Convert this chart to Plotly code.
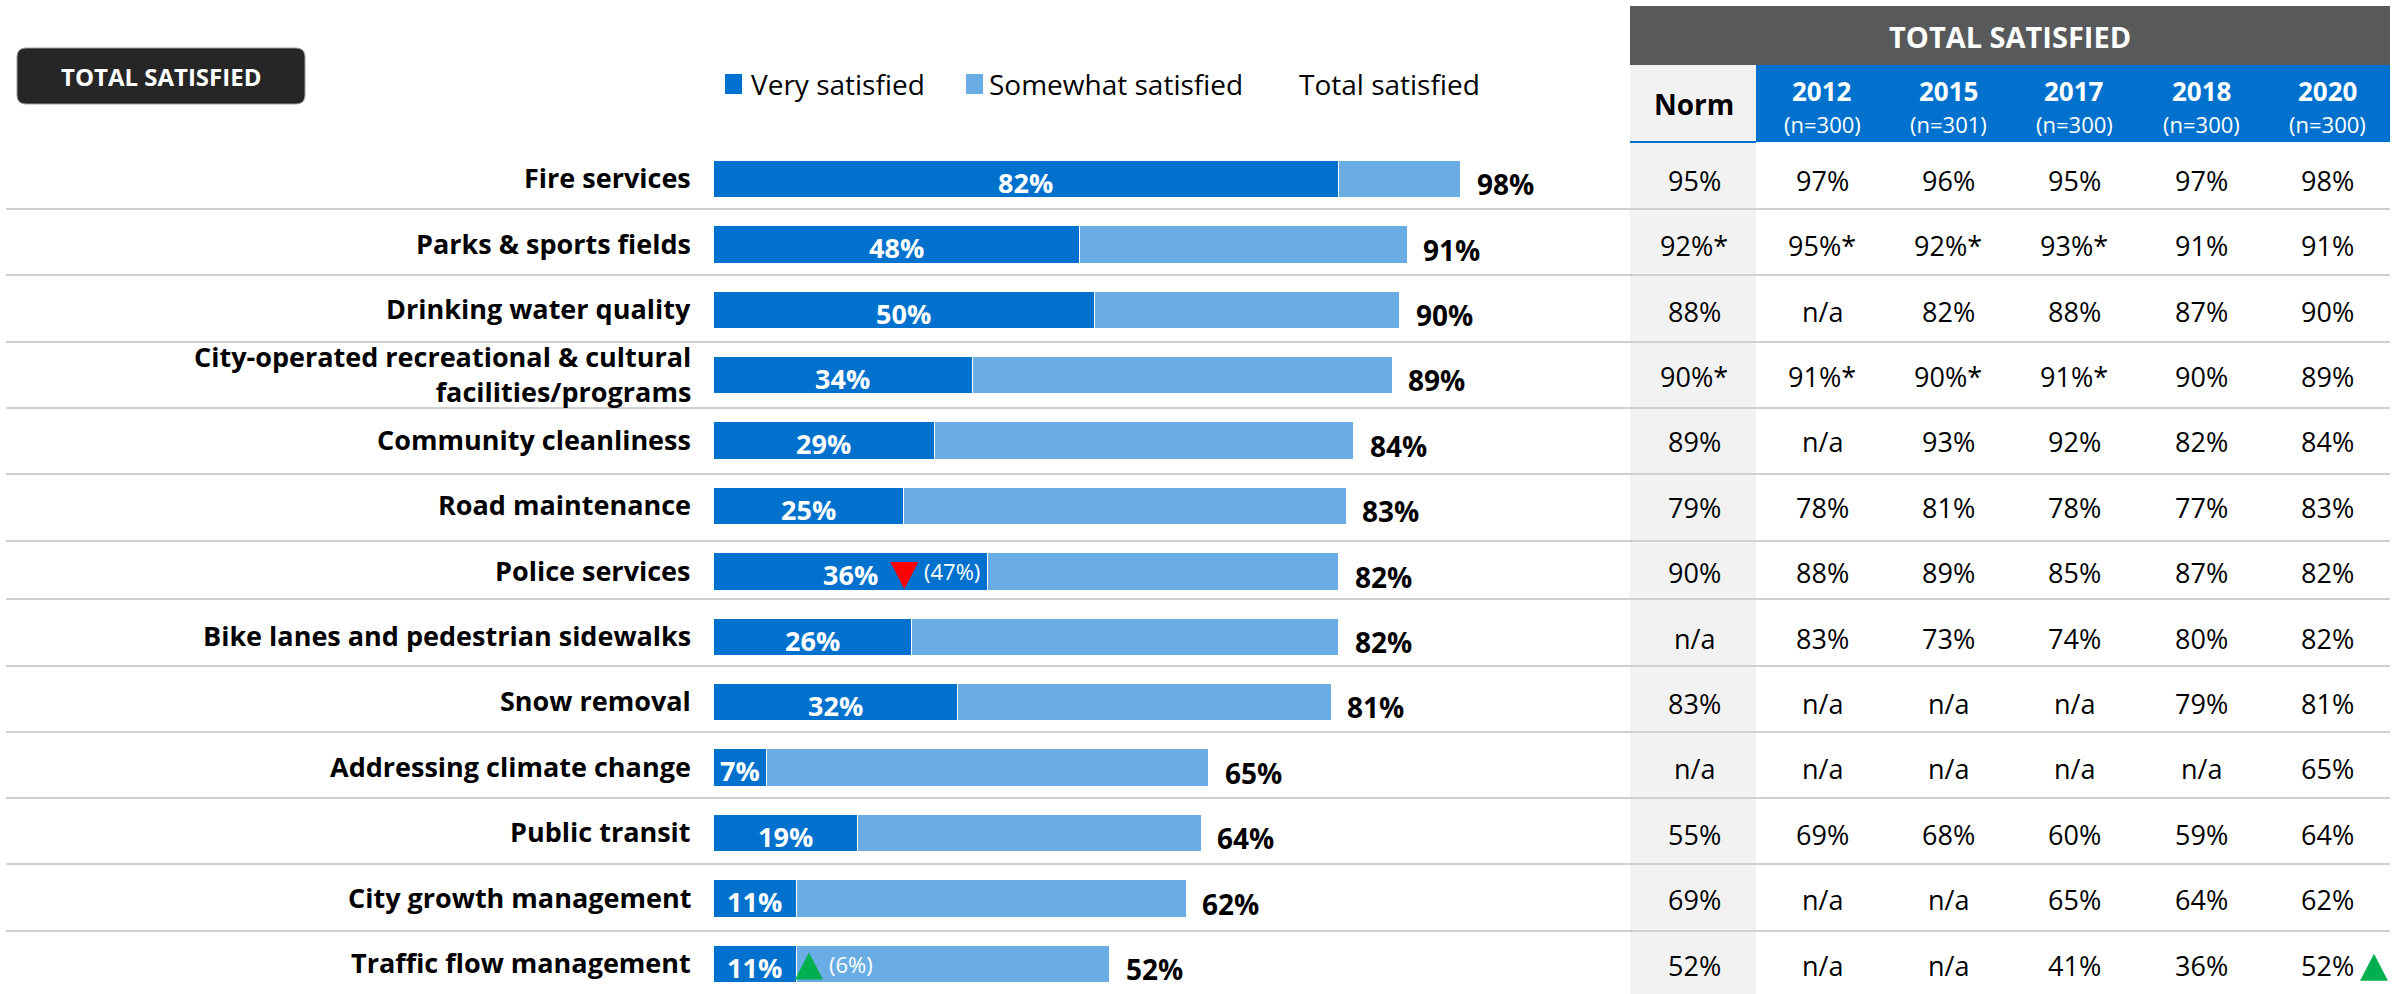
import plotly.graph_objects as go

# ---------------- data ----------------
categories = [
    "Fire services",
    "Parks & sports fields",
    "Drinking water quality",
    "City-operated recreational & cultural<br>facilities/programs",
    "Community cleanliness",
    "Road maintenance",
    "Police services",
    "Bike lanes and pedestrian sidewalks",
    "Snow removal",
    "Addressing climate change",
    "Public transit",
    "City growth management",
    "Traffic flow management",
]
very_satisfied = [82, 48, 50, 34, 29, 25, 36, 26, 32, 7, 19, 11, 11]
total_satisfied = [98, 91, 90, 89, 84, 83, 82, 82, 81, 65, 64, 62, 52]
# previous-year very satisfied values shown with a significance arrow
prev_very = {6: ("(47%)", "down"), 12: ("(6%)", "up")}

table_columns = ["Norm", "2012", "2015", "2017", "2018", "2020"]
table_n = ["", "(n=300)", "(n=301)", "(n=300)", "(n=300)", "(n=300)"]
norm_vals = ["95%", "92%*", "88%", "90%*", "89%", "79%", "90%", "n/a", "83%", "n/a", "55%", "69%", "52%"]
y2012_vals = ["97%", "95%*", "n/a", "91%*", "n/a", "78%", "88%", "83%", "n/a", "n/a", "69%", "n/a", "n/a"]
y2015_vals = ["96%", "92%*", "82%", "90%*", "93%", "81%", "89%", "73%", "n/a", "n/a", "68%", "n/a", "n/a"]
y2017_vals = ["95%", "93%*", "88%", "91%*", "92%", "78%", "85%", "74%", "n/a", "n/a", "60%", "65%", "41%"]
y2018_vals = ["97%", "91%", "87%", "90%", "82%", "77%", "87%", "80%", "79%", "n/a", "59%", "64%", "36%"]
y2020_vals = ["98%", "91%", "90%", "89%", "84%", "83%", "82%", "82%", "81%", "65%", "64%", "62%", "52%"]
table_vals = [norm_vals, y2012_vals, y2015_vals, y2017_vals, y2018_vals, y2020_vals]
table_arrow_rows = {12: "up"}  # arrow next to 2020 value

# ---------------- styling ----------------
W, H = 2402, 994
FONT = "Open Sans, Noto Sans, sans-serif"
DARK_BLUE = "#0072CE"
LIGHT_BLUE = "#6AADE4"
HEADER_GRAY = "#58595B"
BADGE = "#262626"
NORM_BG = "#F2F2F2"
SEP = "#D0D0D0"
RED = "#FF0000"
GREEN = "#00B050"

BAR_X0, BAR_X100 = 713, 1476          # pixel position of 0% and 100%
ROW0_Y, ROW_PITCH = 179, 65.4          # pixel centre of first row, row pitch
PX_PER_PCT = (BAR_X100 - BAR_X0) / 100.0
col_x = [1694, 1822, 1948, 2074, 2201, 2327]
sep_y = [209, 275, 342, 408, 474, 541, 599, 666, 732, 798, 864, 931]

TRI_DOWN = "M -14 12 L 14 12 L 0 -15 Z"
TRI_UP = "M -14 -13 L 14 -13 L 0 14 Z"


def px(x):
    return x / W


def py(y):
    return 1 - y / H


n = len(categories)
rows = list(range(n))
somewhat = [t - v for t, v in zip(total_satisfied, very_satisfied)]

fig = go.Figure()
fig.add_trace(go.Bar(
    y=rows, x=very_satisfied, orientation="h", marker_color=DARK_BLUE,
    marker_line=dict(color="white", width=1), width=0.57, name="Very satisfied",
    hoverinfo="skip"))
fig.add_trace(go.Bar(
    y=rows, x=somewhat, orientation="h", marker_color=LIGHT_BLUE,
    marker_line=dict(color="white", width=1), width=0.57, name="Somewhat satisfied",
    hoverinfo="skip"))

shapes = []
annotations = []

# table background pieces
shapes.append(dict(type="rect", xref="paper", yref="paper", x0=px(1630), x1=px(2390),
                   y0=py(65), y1=py(6), fillcolor=HEADER_GRAY, line_width=0, layer="below"))
shapes.append(dict(type="rect", xref="paper", yref="paper", x0=px(1756), x1=px(2390),
                   y0=py(142), y1=py(65), fillcolor=DARK_BLUE, line_width=0, layer="below"))
shapes.append(dict(type="rect", xref="paper", yref="paper", x0=px(1630), x1=px(1756),
                   y0=0, y1=py(65), fillcolor=NORM_BG, line_width=0, layer="below"))
shapes.append(dict(type="line", xref="paper", yref="paper", x0=px(1630), x1=px(1756),
                   y0=py(142), y1=py(142), line=dict(color=DARK_BLUE, width=2)))

# row separators
for s in sep_y:
    shapes.append(dict(type="line", xref="paper", yref="paper", x0=px(6), x1=px(2390),
                       y0=py(s), y1=py(s), line=dict(color=SEP, width=2), layer="below"))


# badge with rounded corners
def rounded_rect(x0, y0, x1, y1, r):
    pts = [
        f"M {px(x0 + r)} {py(y0)}",
        f"L {px(x1 - r)} {py(y0)}",
        f"Q {px(x1)} {py(y0)} {px(x1)} {py(y0 + r)}",
        f"L {px(x1)} {py(y1 - r)}",
        f"Q {px(x1)} {py(y1)} {px(x1 - r)} {py(y1)}",
        f"L {px(x0 + r)} {py(y1)}",
        f"Q {px(x0)} {py(y1)} {px(x0)} {py(y1 - r)}",
        f"L {px(x0)} {py(y0 + r)}",
        f"Q {px(x0)} {py(y0)} {px(x0 + r)} {py(y0)}",
        "Z",
    ]
    return " ".join(pts)


shapes.append(dict(type="path", xref="paper", yref="paper", path=rounded_rect(17, 48, 305, 104, 9),
                   fillcolor=BADGE, line=dict(color="#9a9a9a", width=1)))
annotations.append(dict(xref="paper", yref="paper", x=px(161), y=py(76), text="<b>TOTAL SATISFIED</b>",
                        showarrow=False, font=dict(family=FONT, size=24, color="white"),
                        xanchor="center", yanchor="middle"))

# legend (custom)
leg_y = 84
shapes.append(dict(type="rect", xref="paper", yref="paper", x0=px(725), x1=px(742),
                   y0=py(leg_y + 10), y1=py(leg_y - 10), fillcolor=DARK_BLUE, line_width=0))
annotations.append(dict(xref="paper", yref="paper", x=px(749), y=py(leg_y), text="Very satisfied",
                        showarrow=False, xanchor="left", yanchor="middle",
                        font=dict(family=FONT, size=28, color="black")))
shapes.append(dict(type="rect", xref="paper", yref="paper", x0=px(966), x1=px(983),
                   y0=py(leg_y + 10), y1=py(leg_y - 10), fillcolor=LIGHT_BLUE, line_width=0))
annotations.append(dict(xref="paper", yref="paper", x=px(987), y=py(leg_y), text="Somewhat satisfied",
                        showarrow=False, xanchor="left", yanchor="middle",
                        font=dict(family=FONT, size=28, color="black")))
annotations.append(dict(xref="paper", yref="paper", x=px(1297), y=py(leg_y), text="Total satisfied",
                        showarrow=False, xanchor="left", yanchor="middle",
                        font=dict(family=FONT, size=28, color="black")))

# category labels, bar labels
tri_off = 54 / PX_PER_PCT
for i, cat in enumerate(categories):
    annotations.append(dict(xref="paper", yref="y", x=px(693), y=i - 0.02, text="<b>%s</b>" % cat,
                            showarrow=False, xanchor="right", yanchor="middle", align="right",
                            font=dict(family=FONT, size=27, color="black")))
    v = very_satisfied[i]
    annotations.append(dict(xref="x", yref="y", x=v / 2, y=i + 0.05, text="<b>%d%%</b>" % v,
                            showarrow=False, xanchor="center", yanchor="middle",
                            font=dict(family=FONT, size=27, color="white")))
    annotations.append(dict(xref="x", yref="y", x=total_satisfied[i], y=i + 0.08,
                            text="<b>%d%%</b>" % total_satisfied[i], showarrow=False,
                            xanchor="left", yanchor="middle", xshift=14,
                            font=dict(family=FONT, size=28, color="black")))
    if i in prev_very:
        txt, d = prev_very[i]
        tx = v / 2 + tri_off
        shapes.append(dict(type="path", xref="x", yref="y", xsizemode="pixel", ysizemode="pixel",
                           xanchor=tx, yanchor=i + 0.04,
                           path=TRI_DOWN if d == "down" else TRI_UP,
                           fillcolor=RED if d == "down" else GREEN, line_width=0))
        annotations.append(dict(xref="x", yref="y", x=tx, y=i, text=txt, showarrow=False,
                                xanchor="left", yanchor="middle", xshift=18,
                                font=dict(family=FONT, size=22, color="white")))

# table header text
annotations.append(dict(xref="paper", yref="paper", x=px(2010), y=py(36), text="<b>TOTAL SATISFIED</b>",
                        showarrow=False, xanchor="center", yanchor="middle",
                        font=dict(family=FONT, size=29, color="white")))
annotations.append(dict(xref="paper", yref="paper", x=px(col_x[0]), y=py(104), text="<b>Norm</b>",
                        showarrow=False, xanchor="center", yanchor="middle",
                        font=dict(family=FONT, size=28, color="black")))
for j in range(1, len(table_columns)):
    annotations.append(dict(xref="paper", yref="paper", x=px(col_x[j]), y=py(91),
                            text="<b>%s</b>" % table_columns[j], showarrow=False,
                            xanchor="center", yanchor="middle",
                            font=dict(family=FONT, size=26, color="white")))
    annotations.append(dict(xref="paper", yref="paper", x=px(col_x[j]), y=py(124),
                            text=table_n[j], showarrow=False, xanchor="center", yanchor="middle",
                            font=dict(family=FONT, size=22, color="white")))

# table body
for j, col in enumerate(table_vals):
    for i, val in enumerate(col):
        annotations.append(dict(xref="paper", yref="y", x=px(col_x[j]), y=i + 0.02, text=val,
                                showarrow=False, xanchor="center", yanchor="middle",
                                font=dict(family=FONT, size=27, color="black")))

for i, d in table_arrow_rows.items():
    shapes.append(dict(type="path", xref="paper", yref="y", xsizemode="pixel", ysizemode="pixel",
                       xanchor=px(col_x[-1] + 47), yanchor=i + 0.06,
                       path=TRI_UP if d == "up" else TRI_DOWN,
                       fillcolor=GREEN if d == "up" else RED, line_width=0))

y_top = -ROW0_Y / ROW_PITCH
y_bot = (H - ROW0_Y) / ROW_PITCH

fig.update_layout(
    width=W, height=H, margin=dict(l=0, r=0, t=0, b=0),
    paper_bgcolor="white", plot_bgcolor="rgba(0,0,0,0)",
    barmode="stack", showlegend=False,
    xaxis=dict(domain=[px(BAR_X0), px(BAR_X100)], range=[0, 100], visible=False, fixedrange=True),
    yaxis=dict(domain=[0, 1], range=[y_bot, y_top], visible=False, fixedrange=True),
    shapes=shapes, annotations=annotations,
    font=dict(family=FONT),
)

fig.write_html("out.html", config={"displayModeBar": False},
               post_script="document.body.style.margin='0';")
